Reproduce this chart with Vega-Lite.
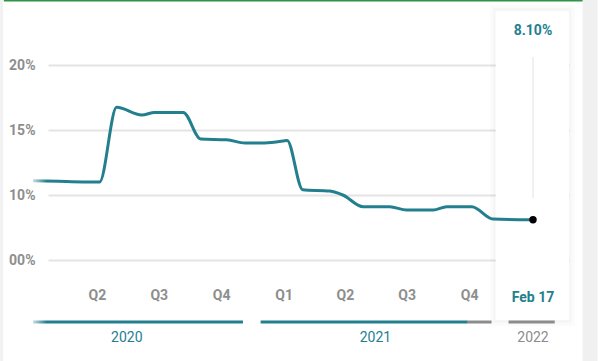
{
  "$schema": "https://vega.github.io/schema/vega-lite/v6.json",
  "width": 521,
  "height": 280,
  "autosize": {"type": "none"},
  "padding": {"left": 48, "top": 0, "right": 37, "bottom": 81},
  "background": "white",
  "config": {"view": {"stroke": null}, "font": "Roboto", "axis": {"domain": false, "ticks": false, "title": null}},
  "datasets": {
    "one": [{}],
    "series": [
      {"date": "2020-02-12", "value": 11.1},
      {"date": "2020-03-20", "value": 11.05},
      {"date": "2020-04-25", "value": 11.0},
      {"date": "2020-05-20", "value": 11.0},
      {"date": "2020-06-14", "value": 16.75},
      {"date": "2020-07-21", "value": 16.15},
      {"date": "2020-08-09", "value": 16.35},
      {"date": "2020-09-20", "value": 16.35},
      {"date": "2020-10-16", "value": 14.3},
      {"date": "2020-11-23", "value": 14.25},
      {"date": "2020-12-20", "value": 14.0},
      {"date": "2021-01-18", "value": 14.0},
      {"date": "2021-02-14", "value": 14.15},
      {"date": "2021-02-20", "value": 14.2},
      {"date": "2021-03-15", "value": 10.4},
      {"date": "2021-04-24", "value": 10.3},
      {"date": "2021-05-13", "value": 10.0},
      {"date": "2021-06-12", "value": 9.1},
      {"date": "2021-07-21", "value": 9.1},
      {"date": "2021-08-15", "value": 8.85},
      {"date": "2021-09-23", "value": 8.85},
      {"date": "2021-10-13", "value": 9.1},
      {"date": "2021-11-19", "value": 9.1},
      {"date": "2021-12-20", "value": 8.15},
      {"date": "2022-02-17", "value": 8.1}
    ],
    "latest": [{"date": "2022-02-17", "value": 8.1, "label": "8.10%", "dateLabel": "Feb 17"}],
    "years": [
      {"year": "2020", "start": "2020-02-12", "end": "2020-12-17", "mid": "2020-06-29", "kind": "past"},
      {"year": "2021", "start": "2021-01-12", "end": "2021-11-13", "mid": "2021-06-30", "kind": "past"},
      {"year": "2021", "start": "2021-11-13", "end": "2021-12-18", "mid": null, "kind": "future"},
      {"year": "2022", "start": "2022-01-12", "end": "2022-03-21", "mid": "2022-02-17", "kind": "future"}
    ]
  },
  "layer": [
    {
      "data": {"name": "one"},
      "mark": {"type": "rect", "color": "#f2f2f2"},
      "encoding": {
        "x": {"datum": {"year": 2019, "month": 12, "date": 20, "utc": true}, "type": "temporal", "scale": {"type": "utc", "domain": [{"year": 2020, "month": 3, "date": 5, "utc": true}, {"year": 2022, "month": 4, "date": 11, "utc": true}]}},
        "x2": {"datum": {"year": 2019, "month": 12, "date": 30, "utc": true}},
        "y": {"datum": 26, "type": "quantitative", "scale": {"domain": [3.4615384615, 25], "nice": false, "zero": false}},
        "y2": {"datum": -3}
      }
    },
    {
      "data": {"name": "one"},
      "mark": {"type": "rect", "color": "#f0f0f0"},
      "encoding": {
        "x": {"datum": {"year": 2022, "month": 5, "date": 1, "utc": true}, "type": "temporal"},
        "x2": {"datum": {"year": 2022, "month": 5, "date": 23, "utc": true}},
        "y": {"datum": 26, "type": "quantitative"},
        "y2": {"datum": -3}
      }
    },
    {
      "data": {"name": "one"},
      "mark": {"type": "rule", "color": "#2f9444", "strokeWidth": 2},
      "encoding": {
        "x": {"datum": {"year": 2019, "month": 12, "date": 31, "utc": true}, "type": "temporal"},
        "x2": {"datum": {"year": 2022, "month": 5, "date": 1, "utc": true}},
        "y": {"datum": 24.96, "type": "quantitative"}
      }
    },
    {
      "data": {"name": "one"},
      "mark": {"type": "rect", "color": "#000000", "opacity": 0.015},
      "encoding": {
        "x": {"datum": {"year": 2021, "month": 12, "date": 16, "utc": true}, "type": "temporal"},
        "x2": {"datum": {"year": 2022, "month": 4, "date": 20, "utc": true}},
        "y": {"datum": 24.6, "type": "quantitative"},
        "y2": {"datum": -0.08}
      }
    },
    {
      "data": {"name": "one"},
      "mark": {"type": "rect", "color": "#000000", "opacity": 0.02},
      "encoding": {
        "x": {"datum": {"year": 2021, "month": 12, "date": 20, "utc": true}, "type": "temporal"},
        "x2": {"datum": {"year": 2022, "month": 4, "date": 15, "utc": true}},
        "y": {"datum": 24.38, "type": "quantitative"},
        "y2": {"datum": 0.15}
      }
    },
    {
      "data": {"name": "one"},
      "mark": {"type": "rect", "color": "#ffffff"},
      "encoding": {
        "x": {"datum": {"year": 2021, "month": 12, "date": 24, "utc": true}, "type": "temporal"},
        "x2": {"datum": {"year": 2022, "month": 4, "date": 11, "utc": true}},
        "y": {"datum": 24.15, "type": "quantitative"},
        "y2": {"datum": 0.385}
      }
    },
    {
      "data": {"name": "one"},
      "mark": {"type": "rule", "color": "#e2e2e2", "strokeWidth": 1},
      "encoding": {
        "x": {"datum": {"year": 2022, "month": 2, "date": 17, "utc": true}, "type": "temporal"},
        "y": {"datum": 20.6, "type": "quantitative"},
        "y2": {"datum": 9.77}
      }
    },
    {
      "data": {"name": "series"},
      "mark": {"type": "line", "interpolate": "monotone", "color": "#237f8e", "strokeWidth": 3},
      "encoding": {
        "x": {
          "field": "date", "type": "temporal",
          "scale": {"type": "utc", "domain": [{"year": 2020, "month": 3, "date": 5, "utc": true}, {"year": 2022, "month": 4, "date": 11, "utc": true}]},
          "axis": {
            "values": [
              {"year": 2020, "month": 2, "date": 15, "utc": true},
              {"year": 2020, "month": 5, "date": 16, "utc": true},
              {"year": 2020, "month": 8, "date": 15, "utc": true},
              {"year": 2020, "month": 11, "date": 15, "utc": true},
              {"year": 2021, "month": 2, "date": 15, "utc": true},
              {"year": 2021, "month": 5, "date": 16, "utc": true},
              {"year": 2021, "month": 8, "date": 15, "utc": true},
              {"year": 2021, "month": 11, "date": 15, "utc": true}
            ],
            "labelExpr": "'Q' + (floor(utcmonth(datum.value) / 3) + 1)",
            "grid": false, "labelPadding": 8, "labelFontSize": 14, "labelFontWeight": "bold",
            "labelColor": "#8e8e8e", "labelFlush": false, "labelOverlap": false, "title": null
          }
        },
        "y": {
          "field": "value", "type": "quantitative",
          "scale": {"domain": [3.4615384615, 25], "nice": false, "zero": false},
          "axis": {
            "values": [5, 10, 15, 20],
            "labelExpr": "datum.value == 5 ? '00%' : datum.value + '%'",
            "grid": true, "gridColor": "#e4e4e4", "gridWidth": 2, "labelPadding": 13,
            "labelFontSize": 14, "labelFontWeight": "bold", "labelColor": "#8e8e8e", "title": null
          }
        }
      }
    },
    {
      "data": {"name": "latest"},
      "mark": {"type": "circle", "color": "#000000", "opacity": 1, "size": 55},
      "encoding": {
        "x": {"field": "date", "type": "temporal"},
        "y": {"field": "value", "type": "quantitative"}
      }
    },
    {
      "data": {"name": "latest"},
      "mark": {"type": "text", "color": "#237f8e", "fontSize": 14, "fontWeight": "bold", "align": "center", "baseline": "middle"},
      "encoding": {
        "x": {"field": "date", "type": "temporal"},
        "y": {"datum": 22.62, "type": "quantitative"},
        "text": {"field": "label"}
      }
    },
    {
      "data": {"name": "latest"},
      "mark": {"type": "text", "color": "#237f8e", "fontSize": 14, "fontWeight": "bold", "align": "center", "baseline": "middle"},
      "encoding": {
        "x": {"field": "date", "type": "temporal"},
        "y": {"datum": 2.08, "type": "quantitative"},
        "text": {"field": "dateLabel"}
      }
    },
    {
      "data": {"name": "years"},
      "mark": {"type": "rule", "strokeWidth": 3},
      "encoding": {
        "x": {"field": "start", "type": "temporal"},
        "x2": {"field": "end"},
        "y": {"datum": 0.23, "type": "quantitative"},
        "color": {"field": "kind", "type": "nominal", "scale": {"domain": ["past", "future"], "range": ["#237f8e", "#8c8c8c"]}, "legend": null}
      }
    },
    {
      "data": {"name": "years"},
      "transform": [{"filter": "datum.mid != null"}],
      "mark": {"type": "text", "fontSize": 14, "align": "center", "baseline": "middle"},
      "encoding": {
        "x": {"field": "mid", "type": "temporal"},
        "y": {"datum": -1.0, "type": "quantitative"},
        "text": {"field": "year"},
        "color": {"field": "kind", "type": "nominal", "legend": null}
      }
    },
    {
      "data": {"name": "one"},
      "mark": {"type": "rect", "color": {"gradient": "linear", "x1": 0, "y1": 0, "x2": 1, "y2": 0, "stops": [{"offset": 0, "color": "rgba(255,255,255,1)"}, {"offset": 1, "color": "rgba(255,255,255,0)"}]}},
      "encoding": {
        "x": {"datum": {"year": 2020, "month": 2, "date": 5, "utc": true}, "type": "temporal"},
        "x2": {"datum": {"year": 2020, "month": 3, "date": 3, "utc": true}},
        "y": {"datum": 12.0, "type": "quantitative"},
        "y2": {"datum": 10.4}
      }
    },
    {
      "data": {"name": "one"},
      "mark": {"type": "rect", "color": {"gradient": "linear", "x1": 0, "y1": 0, "x2": 1, "y2": 0, "stops": [{"offset": 0, "color": "rgba(255,255,255,1)"}, {"offset": 1, "color": "rgba(255,255,255,0)"}]}},
      "encoding": {
        "x": {"datum": {"year": 2020, "month": 2, "date": 5, "utc": true}, "type": "temporal"},
        "x2": {"datum": {"year": 2020, "month": 3, "date": 3, "utc": true}},
        "y": {"datum": 3.2, "type": "quantitative"},
        "y2": {"datum": -0.2}
      }
    }
  ]
}
